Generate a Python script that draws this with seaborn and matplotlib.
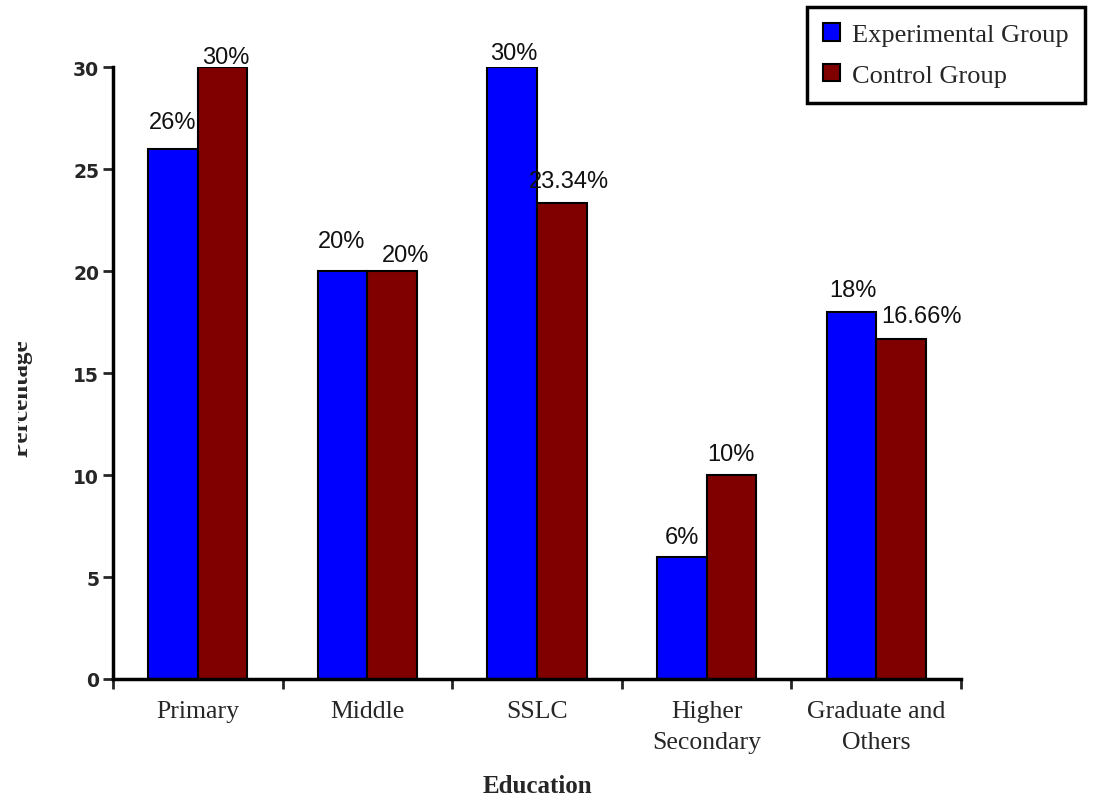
import matplotlib
matplotlib.use("Agg")
import matplotlib.pyplot as plt
from matplotlib.transforms import Bbox, TransformedBbox
import seaborn as sns
import pandas as pd

# Distribution of respondents by education level
categories = ["Primary", "Middle", "SSLC", "Higher\nSecondary", "Graduate and\nOthers"]
groups = ["Experimental Group", "Control Group"]
experimental = [26, 20, 30, 6, 18]
control = [30, 20, 23.34, 10, 16.66]
yticks = [0, 5, 10, 15, 20, 25, 30]

# label placement nudges (dx, dy in pixels above the bar top), per group
label_offsets = [
    [(0, 21), (-1, 24), (2, 8), (0, 14), (1, 16)],
    [(3, 4), (13, 10), (7, 16), (0, 15), (21, 17)],
]

df = pd.DataFrame({
    "Education": categories * 2,
    "Percentage": experimental + control,
    "Group": [groups[0]] * len(categories) + [groups[1]] * len(categories),
})

sns.set_style("ticks")
plt.rcParams["font.family"] = ["Liberation Serif", "DejaVu Serif"]

W, H = 1095, 804
fig = plt.figure(figsize=(W / 100, H / 100), dpi=100)
ax = fig.add_axes([113 / W, 1 - 680 / H, 848 / W, 612 / H])

sns.barplot(
    data=df, x="Education", y="Percentage", hue="Group",
    order=categories, hue_order=groups,
    palette=["#0000FF", "#800000"], saturation=1,
    width=0.584, gap=0, edgecolor="black", linewidth=1.5, ax=ax,
)

ax.set_xlim(-0.5, len(categories) - 0.5)
ax.set_ylim(0, 30)
ax.set_yticks(yticks)
ax.set_yticklabels([str(t) for t in yticks], fontfamily="DejaVu Sans",
                   fontweight="bold", fontsize=13.5)
ax.set_xticks(range(len(categories)))
ax.set_xticklabels(categories, fontsize=18.5, linespacing=1.55)
ax.set_xticks([i - 0.5 for i in range(len(categories) + 1)], minor=True)
ax.tick_params(axis="x", which="major", length=0, pad=15)
ax.tick_params(axis="x", which="minor", length=7, width=2, direction="out")
ax.tick_params(axis="y", length=7, width=2, direction="out", pad=3)
ax.set_xlabel("")
ax.set_ylabel("")

for side in ("top", "right"):
    ax.spines[side].set_visible(False)
for side in ("left", "bottom"):
    ax.spines[side].set_linewidth(2.5)
    ax.spines[side].set_color("black")

# value labels over each bar
for gi, container in enumerate(ax.containers):
    vals = experimental if gi == 0 else control
    for bi, bar in enumerate(container):
        dx, dy = label_offsets[gi][bi]
        xc = bar.get_x() + bar.get_width() / 2
        ax.annotate(f"{vals[bi]:g}%", xy=(xc, bar.get_height()),
                    xytext=(dx * 0.72, dy * 0.72), textcoords="offset points",
                    ha="center", va="baseline", fontsize=17,
                    fontfamily="Liberation Sans", color="#111111")

handles, labels = ax.get_legend_handles_labels()
leg = ax.legend(
    handles, labels, loc="upper right",
    bbox_to_anchor=(1085 / W, 1 - 8 / H), bbox_transform=fig.transFigure,
    frameon=True, fancybox=False, framealpha=1, edgecolor="black",
    fontsize=19, handlelength=0.65, handleheight=0.65, handletextpad=0.45,
    labelspacing=0.65, borderpad=0.62, borderaxespad=0,
)
leg.get_frame().set_linewidth(2.5)

fig.text(537 / W, 1 - 787 / H, "Education", ha="center", va="center",
         fontsize=18, fontweight="bold")

# y-axis title, trimmed at the left margin
ylab = fig.text(33 / W, 1 - 398 / H, "Percentage", rotation=90,
                ha="right", va="center", fontsize=18, fontweight="bold")
ylab.set_clip_box(TransformedBbox(Bbox.from_extents(18 / W, 0, 1, 1),
                                  fig.transFigure))
ylab.set_clip_on(True)

fig.savefig("out.png", dpi=100)
